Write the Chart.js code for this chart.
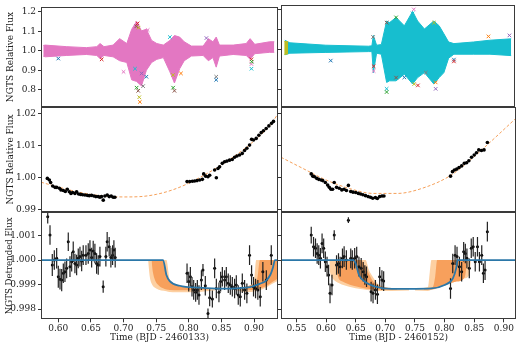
<!DOCTYPE html>
<html>
<head>
<meta charset="utf-8">
<script src="https://cdn.jsdelivr.net/npm/chart.js@4.4.0/dist/chart.umd.min.js"></script>
<style>
  html, body { margin: 0; padding: 0; background: #fff; }
  #wrap { position: relative; width: 520px; height: 344px; }
  #wrap canvas { position: absolute; left: 0; top: 0; }
</style>
</head>
<body>
<div id="wrap">
  <canvas id="c0" width="520" height="344"></canvas>
  <canvas id="c1" width="520" height="344"></canvas>
  <canvas id="c2" width="520" height="344"></canvas>
  <canvas id="c3" width="520" height="344"></canvas>
  <canvas id="c4" width="520" height="344"></canvas>
  <canvas id="c5" width="520" height="344"></canvas>
</div>
<script>
// ---- axis limits and ticks ----
const leftRange = [0.5735, 0.9367];
const rightRange = [0.524, 0.9205];
const topRange = [0.7136, 1.222];
const midRange = [0.9892, 1.0222];
const botRange = [0.99758, 1.00195];

const leftTimeTicks = [0.60, 0.65, 0.70, 0.75, 0.80, 0.85, 0.90];
const rightTimeTicks = [0.55, 0.60, 0.65, 0.70, 0.75, 0.80, 0.85, 0.90];
const topFluxTicks = [0.8, 0.9, 1.0, 1.1, 1.2];
const midFluxTicks = [0.99, 1.00, 1.01, 1.02];
const botFluxTicks = [0.998, 0.999, 1.000, 1.001];

// ---- top row: raw light curves (envelope of the dense band: t, upper, lower) ----
const topLeftBand = [
  [0.577,1.027,0.972],[0.580,1.029,0.969],[0.613,1.021,0.976],[0.643,1.016,0.981],
  [0.659,1.021,0.976],[0.664,1.037,0.960],[0.670,1.021,0.976],[0.684,1.029,0.969],
  [0.694,1.062,0.949],[0.705,1.037,0.940],[0.7125,1.110,0.851],[0.720,1.150,0.843],
  [0.7275,1.102,0.820],[0.735,1.110,0.900],[0.743,1.053,0.940],[0.751,1.037,0.956],
  [0.761,1.029,0.965],[0.771,1.053,0.892],[0.778,1.078,0.835],[0.786,1.070,0.908],
  [0.793,1.046,0.949],[0.804,1.024,0.973],[0.822,1.024,0.976],[0.830,1.062,0.949],
  [0.837,1.046,0.965],[0.842,1.070,0.916],[0.847,1.029,0.973],[0.868,1.029,0.981],
  [0.888,1.037,0.976],[0.894,1.062,0.956],[0.901,1.033,0.985],[0.924,1.046,0.992],
  [0.931,1.046,0.992]
];
const topLeftOutliers = [
  [0.600,0.960],[0.6665,0.956],[0.700,0.892],[0.7176,0.908],[0.720,0.811],[0.7225,0.795],
  [0.7241,0.762],[0.725,0.738],[0.7277,0.884],[0.730,0.819],[0.735,0.867],[0.7215,1.140],
  [0.737,1.106],[0.771,1.070],[0.776,0.811],[0.778,0.795],[0.776,0.876],[0.788,0.884],
  [0.827,1.065],[0.842,0.867],[0.842,0.851],[0.896,0.956],[0.896,0.932],[0.896,0.908],
  [0.8965,0.944],[0.7195,1.125],[0.723,1.118]
];
const topRightBand = [
  [0.5305,1.046,0.973],[0.539,1.033,0.981],[0.600,1.021,0.985],[0.672,1.016,0.989],
  [0.678,1.018,0.989],[0.6805,1.070,0.884],[0.686,1.021,0.981],[0.694,1.024,0.976],
  [0.703,1.142,0.835],[0.708,1.134,0.843],[0.719,1.160,0.843],[0.733,1.118,0.876],
  [0.747,1.190,0.827],[0.7555,1.142,0.859],[0.767,1.102,0.884],[0.783,1.142,0.827],
  [0.792,1.118,0.859],[0.800,1.078,0.884],[0.808,1.037,0.956],[0.817,1.029,0.976],
  [0.850,1.037,0.976],[0.878,1.046,0.976],[0.914,1.053,0.969]
];
const topRightOlive = [[0.5295,1.040,0.975],[0.536,1.038,0.978]];
const topRightOutliers = [
  [0.6083,0.944],[0.681,0.916],[0.681,0.892],[0.703,0.803],[0.703,0.787],[0.719,0.859],
  [0.7497,0.827],[0.7861,0.835],[0.7861,0.803],[0.7694,0.884],[0.817,0.949],[0.817,0.940],
  [0.749,1.200],[0.747,1.180],[0.719,1.160],[0.703,1.134],[0.7833,1.134],[0.8755,1.065],
  [0.911,1.070],[0.680,1.062],[0.733,0.860],[0.756,0.820]
];

// ---- middle row: binned flux and the quadratic trend ----
const midLeftPoints = [
  [0.5832,0.9998],[0.5863,0.9993],[0.5883,0.9985],[0.5914,0.9974],[0.5950,0.9970],[0.5975,0.9970],
  [0.6016,0.9967],[0.6041,0.9962],[0.6077,0.9960],[0.6108,0.9957],[0.6138,0.9964],[0.6169,0.9956],
  [0.6194,0.9951],[0.6220,0.9954],[0.6255,0.9951],[0.6281,0.9956],[0.6311,0.9949],[0.6342,0.9948],
  [0.6373,0.9947],[0.6408,0.9946],[0.6444,0.9945],[0.6475,0.9944],[0.6510,0.9945],[0.6546,0.9943],
  [0.6576,0.9941],[0.6612,0.9941],[0.6638,0.9939],[0.6663,0.9941],[0.6689,0.9930],[0.6714,0.9943],
  [0.6750,0.9946],[0.6780,0.9941],[0.6811,0.9943],[0.6841,0.9939],[0.6867,0.9939],
  [0.7973,0.9988],[0.8014,0.9988],[0.8055,0.9989],[0.8090,0.9990],[0.8126,0.9991],[0.8167,0.9993],
  [0.8208,0.9995],[0.8228,1.0012],[0.8258,1.0005],[0.8294,1.0003],[0.8320,1.0008],[0.8396,1.0024],
  [0.8422,1.0000],[0.8447,1.0029],[0.8472,1.0034],[0.8513,1.0045],[0.8549,1.0050],[0.8585,1.0052],
  [0.8625,1.0055],[0.8666,1.0057],[0.8702,1.0064],[0.8738,1.0068],[0.8778,1.0071],[0.8819,1.0076],
  [0.8855,1.0085],[0.8890,1.0092],[0.8931,1.0102],[0.8962,1.0120],[0.8992,1.0118],[0.9033,1.0123],
  [0.9074,1.0133],[0.9110,1.0141],[0.9145,1.0147],[0.9186,1.0154],[0.9227,1.0162],[0.9268,1.0170],
  [0.9298,1.0176]
];
const midLeftTrend = [
  [0.5735,0.9986],[0.60,0.9971],[0.625,0.9958],[0.65,0.9948],[0.675,0.9942],[0.70,0.9940],
  [0.725,0.9941],[0.75,0.9948],[0.775,0.9962],[0.80,0.9983],[0.825,1.0010],[0.85,1.0040],
  [0.875,1.0075],[0.90,1.0115],[0.925,1.0165],[0.9367,1.0200]
];
const midRightPoints = [
  [0.5750,1.0012],[0.5777,1.0005],[0.5805,1.0003],[0.5844,0.9998],[0.5877,0.9995],[0.5916,0.9993],
  [0.5944,0.9991],[0.5988,0.9985],[0.6027,0.9977],[0.6055,0.9970],[0.6083,0.9964],[0.6111,0.9964],
  [0.6138,0.9985],[0.6177,0.9970],[0.6222,0.9967],[0.6266,0.9962],[0.6305,0.9964],[0.6344,0.9960],
  [0.6377,0.9976],[0.6416,0.9957],[0.6455,0.9955],[0.6500,0.9954],[0.6544,0.9951],[0.6583,0.9949],
  [0.6622,0.9947],[0.6666,0.9944],[0.6710,0.9941],[0.6750,0.9939],[0.6788,0.9936],[0.6833,0.9938],
  [0.6866,0.9935],[0.6905,0.9941],[0.6944,0.9943],[0.6977,0.9943],
  [0.8100,1.0005],[0.8133,1.0019],[0.8166,1.0024],[0.8205,1.0027],[0.8244,1.0032],[0.8288,1.0037],
  [0.8333,1.0045],[0.8372,1.0047],[0.8410,1.0053],[0.8455,1.0064],[0.8500,1.0071],[0.8538,1.0078],
  [0.8577,1.0087],[0.8622,1.0085],[0.8666,1.0087],[0.8722,1.0110]
];
const midRightTrend = [
  [0.524,1.0064],[0.561,1.0029],[0.60,0.9993],[0.64,0.9966],[0.68,0.9951],[0.72,0.9951],
  [0.767,0.9970],[0.811,1.0008],[0.845,1.0058],[0.8745,1.0107],[0.9205,1.0186]
];

// ---- bottom row: detrended flux (t, flux, error) and transit models ----
const botLeftPoints = [
  [0.5838,1.00177,0.00028],[0.5873,1.00102,0.00040],[0.5908,0.99980,0.00045],[0.5939,1.00000,0.00040],
  [0.5975,1.00007,0.00042],[0.6000,0.99932,0.00045],[0.6026,0.99922,0.00042],[0.6052,0.99918,0.00045],
  [0.6077,0.99946,0.00040],[0.6102,0.99952,0.00042],[0.6128,0.99966,0.00040],[0.6153,1.00075,0.00038],
  [0.6179,0.99973,0.00042],[0.6205,0.99993,0.00040],[0.6229,1.00034,0.00042],[0.6255,0.99986,0.00040],
  [0.6281,0.99980,0.00042],[0.6306,1.00007,0.00040],[0.6332,1.00014,0.00040],[0.6358,0.99996,0.00042],
  [0.6382,1.00020,0.00040],[0.6424,1.00020,0.00040],[0.6459,1.00027,0.00042],[0.6485,1.00041,0.00040],
  [0.6511,1.00010,0.00040],[0.6535,1.00037,0.00042],[0.6561,1.00027,0.00040],[0.6587,0.99986,0.00042],
  [0.6612,0.99980,0.00040],[0.6638,1.00014,0.00040],[0.6688,0.99891,0.00025],[0.6729,1.00014,0.00040],
  [0.6749,1.00075,0.00040],[0.6780,1.00054,0.00040],[0.6806,1.00010,0.00040],[0.6832,1.00020,0.00040],
  [0.6852,1.00041,0.00040],[0.6872,1.00010,0.00040],
  [0.7973,0.99946,0.00040],[0.7999,0.99912,0.00040],[0.8024,0.99932,0.00040],[0.8049,0.99891,0.00040],
  [0.8075,0.99878,0.00040],[0.8105,0.99868,0.00038],[0.8131,0.99878,0.00040],[0.8156,0.99857,0.00040],
  [0.8193,0.99918,0.00040],[0.8217,0.99959,0.00025],[0.8253,0.99895,0.00040],[0.8294,0.99782,0.00020],
  [0.8320,0.99846,0.00035],[0.8361,0.99841,0.00035],[0.8396,0.99966,0.00040],[0.8422,0.99884,0.00040],
  [0.8462,0.99868,0.00040],[0.8488,0.99912,0.00040],[0.8514,0.99932,0.00040],[0.8549,0.99918,0.00040],
  [0.8575,0.99932,0.00040],[0.8605,0.99905,0.00040],[0.8636,0.99898,0.00040],[0.8667,0.99891,0.00040],
  [0.8702,0.99884,0.00040],[0.8728,0.99898,0.00040],[0.8758,0.99857,0.00040],[0.8789,0.99850,0.00040],
  [0.8820,0.99905,0.00040],[0.8855,0.99878,0.00040],[0.8890,0.99864,0.00040],[0.8931,1.00020,0.00040],
  [0.8962,0.99939,0.00040],[0.8992,0.99891,0.00040],[0.9023,0.99884,0.00040],[0.9058,0.99878,0.00040],
  [0.9095,0.99850,0.00040],[0.9135,0.99952,0.00040],[0.9188,0.99918,0.00040],[0.9264,1.00020,0.00040]
];
const botLeftModel = [
  [0.5735,1.0],[0.7606,1.0],[0.7657,0.99939],[0.7708,0.99914],[0.7861,0.99895],[0.8167,0.99887],
  [0.850,0.99883],[0.8906,0.99888],[0.9085,0.99903],[0.918,0.99915],[0.925,0.99940],[0.929,0.99970],
  [0.932,1.0],[0.9367,1.0]
];
const botLeftIngressLight = [
  [0.7376,1.0,1.0],[0.7400,1.0,0.99935],[0.7428,1.0,0.99905],[0.7500,1.0,0.99884],[0.7657,1.0,0.99873],
  [0.7708,0.99918,0.99870],[0.780,0.99898,0.99868],[0.795,0.99888,0.99868],[0.815,0.99885,0.99870],
  [0.840,0.99884,0.99876]
];
const botLeftIngressDark = [
  [0.7428,1.0,1.0],[0.7450,1.0,0.99950],[0.7480,1.0,0.99920],[0.7540,1.0,0.99896],[0.7606,1.0,0.99885],
  [0.7657,0.99945,0.99880],[0.7708,0.99918,0.99878],[0.785,0.99897,0.99877],[0.810,0.99888,0.99878],
  [0.830,0.99885,0.99880]
];
const botLeftEgressLight = [
  [0.865,0.99884,0.99880],[0.880,0.99886,0.99872],[0.895,0.99895,0.99870],[0.900,0.99915,0.99872],
  [0.9033,1.0,0.99875],[0.912,1.0,0.99880],[0.920,1.0,0.99890],[0.928,1.0,0.99903],[0.9367,1.0,0.99915]
];
const botLeftEgressDark = [
  [0.880,0.99888,0.99882],[0.895,0.99898,0.99878],[0.905,0.99925,0.99880],[0.909,1.0,0.99884],
  [0.918,1.0,0.99893],[0.928,1.0,0.99910],[0.9367,1.0,0.99925]
];
const botRightPoints = [
  [0.5750,1.00102,0.00034],[0.5789,1.00054,0.00040],[0.5822,1.00048,0.00040],[0.5850,1.00027,0.00042],
  [0.5877,1.00020,0.00040],[0.5905,1.00007,0.00042],[0.5933,1.00068,0.00040],[0.5960,1.00048,0.00040],
  [0.5988,0.99993,0.00042],[0.6017,0.99973,0.00040],[0.6043,0.99939,0.00042],[0.6067,0.99864,0.00040],
  [0.6100,0.99898,0.00042],[0.6138,1.00102,0.00020],[0.6177,0.99980,0.00040],[0.6210,0.99986,0.00042],
  [0.6238,0.99973,0.00040],[0.6277,1.00007,0.00040],[0.6305,1.00014,0.00042],[0.6343,1.00000,0.00040],
  [0.6377,1.00163,0.00012],[0.6417,1.00007,0.00040],[0.6443,1.00000,0.00040],[0.6483,1.00007,0.00042],
  [0.6517,1.00014,0.00040],[0.6555,0.99973,0.00040],[0.6593,0.99966,0.00042],[0.6627,0.99952,0.00040],
  [0.6655,0.99939,0.00040],[0.6683,0.99932,0.00042],[0.6760,0.99871,0.00040],[0.6793,0.99864,0.00040],
  [0.6833,0.99878,0.00040],[0.6867,0.99860,0.00040],[0.6905,0.99932,0.00040],[0.6943,0.99918,0.00040],
  [0.6972,0.99914,0.00040],
  [0.8100,0.99884,0.00042],[0.8138,0.99986,0.00040],[0.8177,1.00020,0.00040],[0.8210,1.00014,0.00040],
  [0.8250,0.99973,0.00040],[0.8288,0.99952,0.00040],[0.8322,1.00034,0.00040],[0.8350,1.00027,0.00040],
  [0.8377,1.00007,0.00040],[0.8417,0.99966,0.00040],[0.8450,1.00048,0.00040],[0.8483,1.00054,0.00040],
  [0.8517,0.99993,0.00040],[0.8555,1.00054,0.00040],[0.8588,0.99993,0.00040],[0.8627,1.00020,0.00040],
  [0.8655,0.99946,0.00040],[0.8683,0.99959,0.00040],[0.8722,1.00116,0.00040]
];
const botRightModel = [
  [0.524,1.0],[0.646,1.0],[0.650,0.99986],[0.6555,0.99939],[0.6667,0.99909],[0.6833,0.99891],
  [0.711,0.99882],[0.739,0.99882],[0.778,0.99884],[0.800,0.99898],[0.814,0.99925],[0.8195,0.99966],
  [0.822,1.0],[0.9205,1.0]
];
const botRightIngressLight = [
  [0.6055,1.0,1.0],[0.6067,1.0,0.99952],[0.611,1.0,0.99925],[0.6222,1.0,0.99905],[0.6389,1.0,0.99891],
  [0.661,1.0,0.99881],[0.6667,1.0,0.99879],[0.6722,0.9996,0.99877],[0.6806,0.99925,0.99875],
  [0.6889,0.99900,0.99874],[0.711,0.99886,0.99874],[0.740,0.99884,0.99876]
];
const botRightIngressDark = [
  [0.6167,1.0,1.0],[0.6194,1.0,0.99939],[0.6278,1.0,0.99912],[0.6444,1.0,0.99896],[0.6583,1.0,0.99888],
  [0.6667,0.9997,0.99884],[0.6806,0.99910,0.99880],[0.700,0.99888,0.99878],[0.720,0.99883,0.99879]
];
const botRightEgressLight = [
  [0.750,0.99884,0.99876],[0.772,0.99890,0.99874],[0.775,0.99950,0.99876],[0.7778,1.0,0.99880],
  [0.800,1.0,0.99895],[0.8111,1.0,0.99905],[0.8333,1.0,0.99925],[0.8417,1.0,0.99940],[0.8445,1.0,1.0]
];
const botRightEgressDark = [
  [0.765,0.99883,0.99879],[0.780,0.99890,0.99880],[0.784,0.9993,0.99882],[0.7875,1.0,0.99886],
  [0.800,1.0,0.99897],[0.820,1.0,0.99912],[0.834,1.0,0.99930],[0.838,1.0,1.0]
];

// ---- styling ----
Chart.defaults.font.family = "'DejaVu Serif', serif";
Chart.defaults.font.size = 9;
Chart.defaults.color = '#222';

const tab10 = ['#1f77b4','#ff7f0e','#2ca02c','#d62728','#9467bd','#8c564b','#e377c2','#7f7f7f','#bcbd22','#17becf'];
const LIGHT = 'rgba(253,208,162,1)';
const DARK = 'rgba(247,160,92,1)';
const MODEL = '#2b77a8';

const cols = { L: { left: 41, right: 278 }, R: { left: 281, right: 519 } };
const rows = { top: { top: 1.5, bottom: 106.7 }, mid: { top: 106.7, bottom: 212.3 }, bot: { top: 212.3, bottom: 319.3 } };

const xy = a => a.map(p => ({ x: p[0], y: p[1] }));

function curve(data, color, extra) {
  return Object.assign({
    data: xy(data), showLine: true, pointRadius: 0, borderColor: color,
    borderWidth: 1, fill: false, cubicInterpolationMode: 'monotone'
  }, extra);
}

function band(rowsData, color, order, smooth) {
  const base = { showLine: true, pointRadius: 0, borderColor: color, backgroundColor: color, order };
  if (smooth) base.cubicInterpolationMode = 'monotone';
  return [
    Object.assign({ data: rowsData.map(r => ({ x: r[0], y: r[1] })), fill: false, borderWidth: smooth ? 0 : 1 }, base),
    Object.assign({ data: rowsData.map(r => ({ x: r[0], y: r[2] })), fill: '-1', borderWidth: smooth ? 0 : 1 }, base)
  ];
}

function dots(data, extra) {
  return Object.assign({
    data: xy(data), showLine: false, pointRadius: 1.5, pointBorderWidth: 0,
    pointBackgroundColor: '#000', borderColor: '#000'
  }, extra);
}

function crosses(data, order) {
  return {
    data: xy(data), showLine: false, pointStyle: 'crossRot', pointRadius: 2.5,
    pointBorderWidth: 1, order,
    pointBorderColor: ctx => tab10[(ctx.dataIndex * 3) % 10]
  };
}

const frame = {
  id: 'frame',
  afterDraw(chart) {
    const { ctx, chartArea: a } = chart;
    ctx.save();
    ctx.strokeStyle = '#3a3a3a';
    ctx.lineWidth = 1;
    const l = Math.round(a.left) + 0.5, t = Math.round(a.top) + 0.5;
    const r = Math.round(a.right) - 0.5, b = Math.round(a.bottom) - 0.5;
    ctx.strokeRect(l, t, r - l, b - t);
    ctx.restore();
  }
};

const errorBars = {
  id: 'errorBars',
  afterDatasetDraw(chart, args) {
    const ds = chart.data.datasets[args.index];
    if (!ds.errors) return;
    const { ctx, chartArea: a, scales: { x, y } } = chart;
    ctx.save();
    ctx.beginPath();
    ctx.rect(a.left, a.top, a.right - a.left, a.bottom - a.top);
    ctx.clip();
    ctx.strokeStyle = '#222';
    ctx.lineWidth = 1.2;
    ds.data.forEach((p, i) => {
      const px = x.getPixelForValue(p.x);
      ctx.beginPath();
      ctx.moveTo(px, y.getPixelForValue(p.y - ds.errors[i]));
      ctx.lineTo(px, y.getPixelForValue(p.y + ds.errors[i]));
      ctx.stroke();
    });
    ctx.restore();
  }
};

function panel(id, col, row, cfg) {
  const C = cols[col], R = rows[row];
  const isBottom = row === 'bot';
  const isLeft = col === 'L';
  const yW = isLeft ? 41 : 3;
  const xH = 344 - R.bottom;
  new Chart(document.getElementById(id), {
    type: 'line',
    data: { datasets: cfg.datasets },
    options: {
      responsive: false,
      animation: false,
      events: [],
      layout: { padding: { left: C.left - yW, right: 520 - C.right, top: R.top, bottom: isBottom ? 0 : 344 - R.bottom } },
      plugins: { legend: { display: false }, tooltip: { enabled: false } },
      scales: {
        x: {
          type: 'linear', min: cfg.xRange[0], max: cfg.xRange[1], display: isBottom,
          afterFit: s => { if (isBottom) s.height = xH; },
          afterBuildTicks: s => { s.ticks = cfg.xTicks.map(v => ({ value: v })); },
          ticks: { callback: v => v.toFixed(2), padding: 1, maxRotation: 0, autoSkip: false, color: '#222' },
          grid: { drawOnChartArea: false, tickLength: 3, color: '#333' },
          border: { display: false },
          title: { display: true, text: cfg.xTitle || '', color: '#222', padding: { top: 0, bottom: 1 } }
        },
        y: {
          type: 'linear', min: cfg.yRange[0], max: cfg.yRange[1], position: 'left',
          afterFit: s => { s.width = yW; },
          afterBuildTicks: s => { s.ticks = cfg.yTicks.map(v => ({ value: v })); },
          ticks: { display: isLeft, callback: v => v.toFixed(cfg.yDigits), padding: 2, color: '#222', autoSkip: false },
          grid: { drawOnChartArea: false, tickLength: 3, color: '#333' },
          border: { display: false },
          title: { display: isLeft, text: cfg.yTitle || '', color: '#222', font: { size: cfg.yTitleSize || 9 }, padding: { top: 5, bottom: 0 } }
        }
      }
    },
    plugins: [frame, errorBars]
  });
}

// top row
panel('c0', 'L', 'top', {
  xRange: leftRange, xTicks: leftTimeTicks, yRange: topRange, yTicks: topFluxTicks, yDigits: 1,
  yTitle: 'NGTS Relative Flux',
  datasets: [crosses(topLeftOutliers, 0), ...band(topLeftBand, '#e377c2', 2, false)]
});
panel('c1', 'R', 'top', {
  xRange: rightRange, xTicks: rightTimeTicks, yRange: topRange, yTicks: topFluxTicks, yDigits: 1,
  datasets: [crosses(topRightOutliers, 0), ...band(topRightBand, '#17becf', 2, false), ...band(topRightOlive, '#bcbd22', 1, false)]
});

// middle row
panel('c2', 'L', 'mid', {
  xRange: leftRange, xTicks: leftTimeTicks, yRange: midRange, yTicks: midFluxTicks, yDigits: 2,
  yTitle: 'NGTS Relative Flux',
  datasets: [dots(midLeftPoints, { order: 0, pointRadius: 1.8 }), curve(midLeftTrend, '#f5a05a', { borderDash: [3, 2], order: 1 })]
});
panel('c3', 'R', 'mid', {
  xRange: rightRange, xTicks: rightTimeTicks, yRange: midRange, yTicks: midFluxTicks, yDigits: 2,
  datasets: [dots(midRightPoints, { order: 0, pointRadius: 1.8 }), curve(midRightTrend, '#f5a05a', { borderDash: [3, 2], order: 1 })]
});

// bottom row
panel('c4', 'L', 'bot', {
  xRange: leftRange, xTicks: leftTimeTicks, yRange: botRange, yTicks: botFluxTicks, yDigits: 3,
  yTitle: 'NGTS Detrended Flux', yTitleSize: 8.6, xTitle: 'Time (BJD - 2460133)',
  datasets: [
    curve(botLeftModel, MODEL, { borderWidth: 1.8, order: 0 }),
    dots(botLeftPoints, { order: 1, errors: botLeftPoints.map(p => p[2]) }),
    ...band(botLeftIngressDark, DARK, 3, true),
    ...band(botLeftEgressDark, DARK, 3, true),
    ...band(botLeftIngressLight, LIGHT, 4, true),
    ...band(botLeftEgressLight, LIGHT, 4, true)
  ]
});
panel('c5', 'R', 'bot', {
  xRange: rightRange, xTicks: rightTimeTicks, yRange: botRange, yTicks: botFluxTicks, yDigits: 3,
  xTitle: 'Time (BJD - 2460152)',
  datasets: [
    curve(botRightModel, MODEL, { borderWidth: 1.8, order: 0 }),
    dots(botRightPoints, { order: 1, errors: botRightPoints.map(p => p[2]) }),
    ...band(botRightIngressDark, DARK, 3, true),
    ...band(botRightEgressDark, DARK, 3, true),
    ...band(botRightIngressLight, LIGHT, 4, true),
    ...band(botRightEgressLight, LIGHT, 4, true)
  ]
});
</script>
</body>
</html>
